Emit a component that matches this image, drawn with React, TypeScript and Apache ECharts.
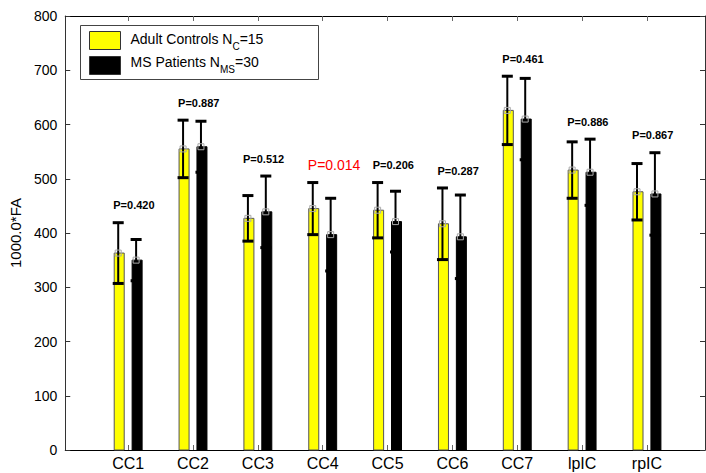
import React, { useEffect, useRef } from 'react';
import * as echarts from 'echarts';

const categories = ['CC1', 'CC2', 'CC3', 'CC4', 'CC5', 'CC6', 'CC7', 'lpIC', 'rpIC'];
const controlMean = [363, 555, 427, 445, 442, 417, 626, 516, 476];
const controlSd = [56, 53, 42, 48, 51, 66, 63, 52, 52];
const msMean = [350, 559, 439, 397, 421, 393, 610, 512, 472];
const msSd = [38, 47, 66, 67, 56, 77, 75, 61, 76];
const pValues = ['0.420', '0.887', '0.512', '0.014', '0.206', '0.287', '0.461', '0.886', '0.867'];
const significant = [false, false, false, true, false, false, false, false, false];
const categoryPositions = [1, 2, 3, 4, 5, 6, 7, 8, 9];

const FONT = '"Liberation Sans", Arial, Helvetica, sans-serif';
const BAR_SHIFT = 0.138;
const BAR_PX = 10;

function makeBarRender(shift: number, color: string, stroke: string) {
  return (params: any, api: any) => {
    const x = api.value(0) + shift;
    const m = api.value(1);
    const s = api.value(2);
    const top = api.coord([x, m]);
    const base = api.coord([x, 0]);
    const hi = api.coord([x, m + s]);
    const lo = api.coord([x, m - s]);
    const cx = top[0];
    const ex = cx - 1;
    return {
      type: 'group',
      children: [
        {
          type: 'rect',
          shape: { x: cx - BAR_PX / 2, y: top[1], width: BAR_PX, height: base[1] - top[1] },
          style: { fill: color, stroke, lineWidth: 1 },
        },
        {
          type: 'line',
          shape: { x1: ex, y1: hi[1], x2: ex, y2: lo[1] },
          style: { stroke: '#000', lineWidth: 2 },
        },
        {
          type: 'line',
          shape: { x1: ex - 5.5, y1: hi[1], x2: ex + 5.5, y2: hi[1] },
          style: { stroke: '#000', lineWidth: 3 },
        },
        {
          type: 'line',
          shape: { x1: ex - 5.5, y1: lo[1], x2: ex + 5.5, y2: lo[1] },
          style: { stroke: '#000', lineWidth: 3 },
        },
        {
          type: 'rect',
          shape: { x: ex - 3, y: top[1] - 3, width: 6, height: 6 },
          style: { fill: 'none', stroke: '#aaa', lineWidth: 1 },
        },
      ],
    };
  };
}

export default function App() {
  const ref = useRef<HTMLDivElement>(null);
  useEffect(() => {
    if (!ref.current) return;
    const chart = echarts.init(ref.current, null, { renderer: 'svg' });
    const controlData = categoryPositions.map((p, i) => [p, controlMean[i], controlSd[i]]);
    const msData = categoryPositions.map((p, i) => [p, msMean[i], msSd[i]]);
    const labelData = categoryPositions.map((p, i) => [
      p,
      Math.max(controlMean[i] + controlSd[i], msMean[i] + msSd[i]),
    ]);
    const xCommon = {
      type: 'value',
      min: 0.03,
      max: 9.895,
      splitLine: { show: false },
      axisLine: { show: true, onZero: false, lineStyle: { color: '#000', width: 1 } },
      axisTick: { show: true, inside: true, length: 5, customValues: categoryPositions, lineStyle: { color: '#666' } },
    };
    const yCommon = {
      type: 'value',
      min: 0,
      max: 800,
      interval: 100,
      splitLine: { show: false },
      axisLine: { show: true, onZero: false, lineStyle: { color: '#333', width: 1 } },
      axisTick: { show: true, inside: true, length: 5, lineStyle: { color: '#333' } },
    };
    chart.setOption({
      animation: false,
      backgroundColor: '#fff',
      grid: { left: 62, right: 1, top: 16, bottom: 23 },
      xAxis: [
        {
          ...xCommon,
          position: 'bottom',
          axisLabel: {
            customValues: categoryPositions,
            formatter: (v: number) => categories[Math.round(v) - 1] ?? '',
            fontSize: 16,
            color: '#000',
            fontFamily: FONT,
            margin: 5,
          },
        },
        { ...xCommon, position: 'top', axisLabel: { show: false } },
      ],
      yAxis: [
        {
          ...yCommon,
          position: 'left',
          name: '1000.0*FA',
          nameLocation: 'middle',
          nameGap: 38,
          nameTextStyle: { fontSize: 15, color: '#000', fontFamily: FONT },
          axisLabel: { fontSize: 14, color: '#000', fontFamily: FONT, margin: 8 },
        },
        { ...yCommon, position: 'right', axisLabel: { show: false } },
      ],
      series: [
        {
          type: 'custom',
          name: 'Adult Controls',
          xAxisIndex: 0,
          yAxisIndex: 0,
          data: controlData,
          renderItem: makeBarRender(-BAR_SHIFT, '#ffff00', '#555'),
          z: 2,
        },
        {
          type: 'custom',
          name: 'MS Patients',
          xAxisIndex: 0,
          yAxisIndex: 0,
          data: msData,
          renderItem: makeBarRender(BAR_SHIFT, '#000', '#000'),
          z: 3,
        },
        {
          type: 'custom',
          name: 'P',
          xAxisIndex: 0,
          yAxisIndex: 0,
          data: labelData,
          z: 4,
          renderItem: (params: any, api: any) => {
            const i = params.dataIndex;
            const pt = api.coord([api.value(0) - 0.23, api.value(1) + 32]);
            const sig = significant[i];
            return {
              type: 'text',
              x: pt[0],
              y: pt[1],
              style: {
                text: 'P=' + pValues[i],
                fill: sig ? '#ff0000' : '#000',
                fontSize: sig ? 14 : 11,
                fontWeight: sig ? 'normal' : 'bold',
                fontFamily: FONT,
                align: 'left',
                verticalAlign: 'middle',
              },
            };
          },
        },
      ],
      graphic: [
        {
          type: 'group',
          left: 80,
          top: 25,
          children: [
            {
              type: 'rect',
              shape: { x: 0, y: 0, width: 238, height: 54 },
              style: { fill: '#fff', stroke: '#444', lineWidth: 1 },
            },
            {
              type: 'rect',
              shape: { x: 9, y: 6, width: 31, height: 18 },
              style: { fill: '#ffff00', stroke: '#333', lineWidth: 1 },
            },
            {
              type: 'rect',
              shape: { x: 9, y: 31, width: 31, height: 18 },
              style: { fill: '#000', stroke: '#333', lineWidth: 1 },
            },
            {
              type: 'text',
              x: 50,
              y: 13,
              style: {
                text: '{m|Adult Controls N}{s|C}{m|=15}',
                verticalAlign: 'middle',
                align: 'left',
                rich: {
                  m: { fontSize: 14, fontFamily: FONT, fill: '#000', lineHeight: 25, verticalAlign: 'middle' },
                  s: { fontSize: 10, fontFamily: FONT, fill: '#000', lineHeight: 25, verticalAlign: 'bottom' },
                },
              },
            },
            {
              type: 'text',
              x: 50,
              y: 36,
              style: {
                text: '{m|MS Patients N}{s|MS}{m|=30}',
                verticalAlign: 'middle',
                align: 'left',
                rich: {
                  m: { fontSize: 14, fontFamily: FONT, fill: '#000', lineHeight: 25, verticalAlign: 'middle' },
                  s: { fontSize: 10, fontFamily: FONT, fill: '#000', lineHeight: 25, verticalAlign: 'bottom' },
                },
              },
            },
          ],
        },
      ],
    });
    return () => chart.dispose();
  }, []);
  return (
    <div
      ref={ref}
      style={{ position: 'fixed', left: 0, top: 0, width: 706, height: 473, background: '#fff' }}
    />
  );
}
